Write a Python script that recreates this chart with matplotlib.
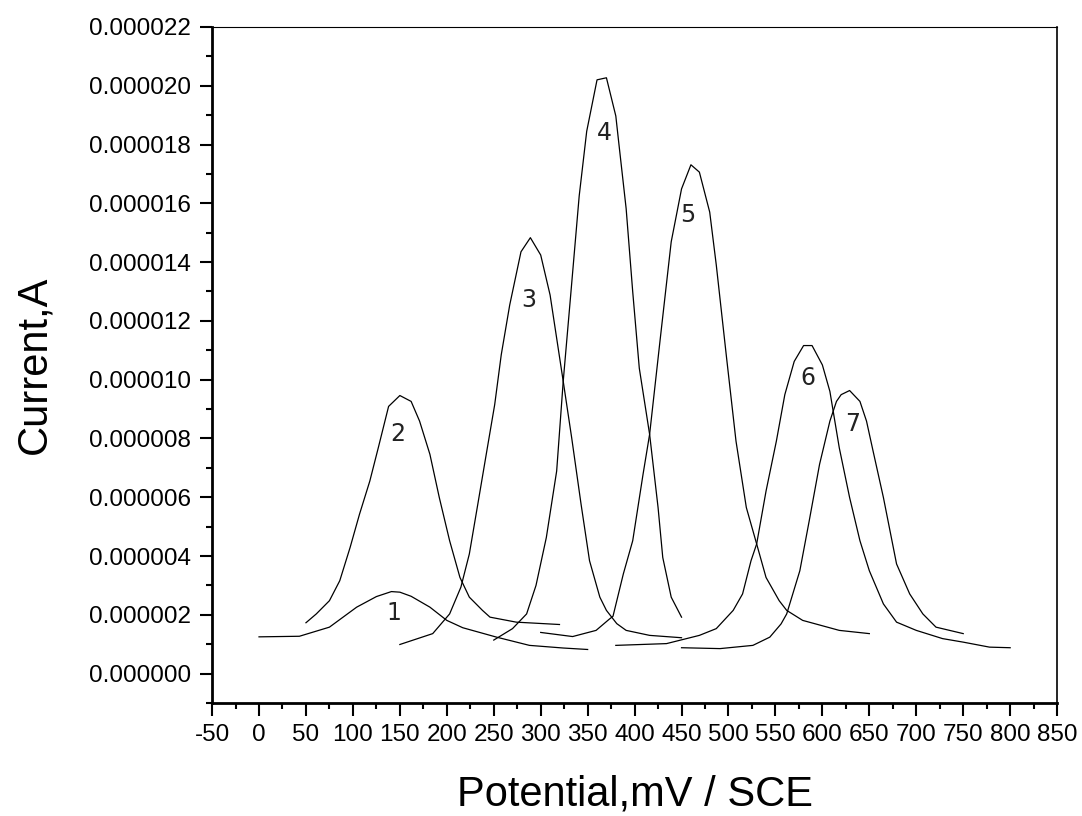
import matplotlib
matplotlib.use("Agg")
import matplotlib.pyplot as plt
from matplotlib.ticker import MultipleLocator, FormatStrFormatter

# Potential (mV) and current (A), one curve per label
x1 = [0, 43, 75, 104, 125, 141, 150, 162, 182, 200, 217, 253, 288, 324, 350]
y1 = [1.25, 1.27, 1.58, 2.26, 2.62, 2.79, 2.77, 2.63, 2.26, 1.81, 1.56, 1.24, 0.96, 0.87, 0.82]

x2 = [50, 61, 75, 86, 97, 107, 118, 127, 138, 150, 162, 171, 182, 192, 203, 214, 224, 238, 246, 274, 320]
y2 = [1.73, 2.03, 2.48, 3.16, 4.29, 5.42, 6.55, 7.68, 9.09, 9.46, 9.26, 8.59, 7.46, 5.99, 4.52, 3.27, 2.60, 2.15, 1.92, 1.75, 1.67]

x3 = [150, 185, 203, 215, 224, 233, 242, 251, 258, 267, 279, 289, 300, 310, 317, 324, 333, 343, 352,
      359, 363, 370, 381, 391, 416, 450]
y3 = [0.99, 1.36, 2.03, 2.94, 4.07, 5.76, 7.46, 9.15, 10.85, 12.54, 14.35, 14.83, 14.24, 12.88, 11.41, 9.94,
      8.02, 5.76, 3.84, 3.05, 2.60, 2.15, 1.70, 1.47, 1.30, 1.22]

x4 = [250, 270, 285, 295, 306, 317, 324, 332, 341, 349, 360, 370, 380, 383, 391, 398, 405, 416, 425, 430, 439, 450]
y4 = [1.14, 1.53, 2.03, 3.00, 4.63, 6.89, 9.95, 12.9, 16.25, 18.45, 20.2, 20.27, 18.97, 18.1, 15.82, 12.99,
      10.39, 8.14, 5.65, 3.95, 2.60, 1.92]

x5 = [300, 334, 359, 373, 377, 388, 398, 409, 416, 427, 439, 450, 460, 469, 480, 487, 498, 508, 519, 530,
      540, 554, 562, 579, 618, 650]
y5 = [1.40, 1.26, 1.47, 1.85, 1.95, 3.39, 4.52, 6.78, 8.14, 11.3, 14.69, 16.49, 17.31, 17.06, 15.7, 13.9,
      10.73, 7.91, 5.65, 4.41, 3.27, 2.48, 2.15, 1.81, 1.47, 1.36]

x6 = [380, 434, 469, 487, 505, 515, 524, 530, 540, 551, 560, 570, 580, 589, 600, 608, 618, 629, 640, 650,
      665, 679, 700, 728, 750, 778, 800]
y6 = [0.96, 1.02, 1.30, 1.53, 2.15, 2.71, 3.84, 4.41, 6.21, 7.91, 9.49, 10.62, 11.16, 11.16, 10.5, 9.6,
      7.68, 5.99, 4.52, 3.50, 2.37, 1.75, 1.47, 1.19, 1.07, 0.90, 0.88]

x7 = [450, 491, 526, 544, 556, 562, 576, 586, 597, 608, 615, 620, 629, 640, 647, 654, 665, 679, 693, 707, 721, 750]
y7 = [0.88, 0.85, 0.96, 1.24, 1.69, 2.03, 3.50, 5.20, 7.12, 8.59, 9.26, 9.49, 9.63, 9.26, 8.59, 7.57,
      5.99, 3.73, 2.71, 2.03, 1.58, 1.36]

curve_labels = ["1", "2", "3", "4", "5", "6", "7"]
label_x = [144, 148, 287, 368, 457, 585, 632]
label_y = [2.07, 8.15, 12.7, 18.4, 15.6, 10.05, 8.5]

xs = [x1, x2, x3, x4, x5, x6, x7]
ys = [y1, y2, y3, y4, y5, y6, y7]

plt.rcParams['font.family'] = ['Liberation Sans', 'DejaVu Sans']
plt.rcParams['axes.unicode_minus'] = False

fig = plt.figure(figsize=(10.82, 8.16), dpi=100)
ax = fig.add_axes([0.196, 0.1385, 0.781, 0.8285])

for xv, yv in zip(xs, ys):
    ax.plot(xv, [v * 1e-6 for v in yv], color='black', lw=0.9)

for t, lx, ly in zip(curve_labels, label_x, label_y):
    ax.text(lx, ly * 1e-6, t, fontsize=17, family='DejaVu Sans', ha='center', va='center', color='#222222')

ax.set_xlim(-50, 850)
ax.set_ylim(-0.000001, 0.000022)
ax.xaxis.set_major_locator(MultipleLocator(50))
ax.xaxis.set_minor_locator(MultipleLocator(25))
ax.yaxis.set_major_locator(MultipleLocator(0.000002))
ax.yaxis.set_minor_locator(MultipleLocator(0.000001))
ax.yaxis.set_major_formatter(FormatStrFormatter('%.6f'))

ax.tick_params(which='major', direction='out', length=9, width=1.5, labelsize=17.5, pad=6)
ax.tick_params(which='minor', direction='out', length=4.5, width=1.5)
ax.tick_params(top=False, right=False)

ax.spines['left'].set_linewidth(2)
ax.spines['bottom'].set_linewidth(2)
ax.spines['top'].set_linewidth(0.8)
ax.spines['right'].set_linewidth(1.2)

ax.set_xlabel('Potential,mV / SCE', fontsize=30)
ax.set_ylabel('Current,A', fontsize=30)
ax.xaxis.set_label_coords(0.5, -0.136)
ax.xaxis.label.set_va('center')
ax.yaxis.set_label_coords(-0.21, 0.5)
ax.yaxis.label.set_va('center')

fig.savefig('out.png', dpi=100)
